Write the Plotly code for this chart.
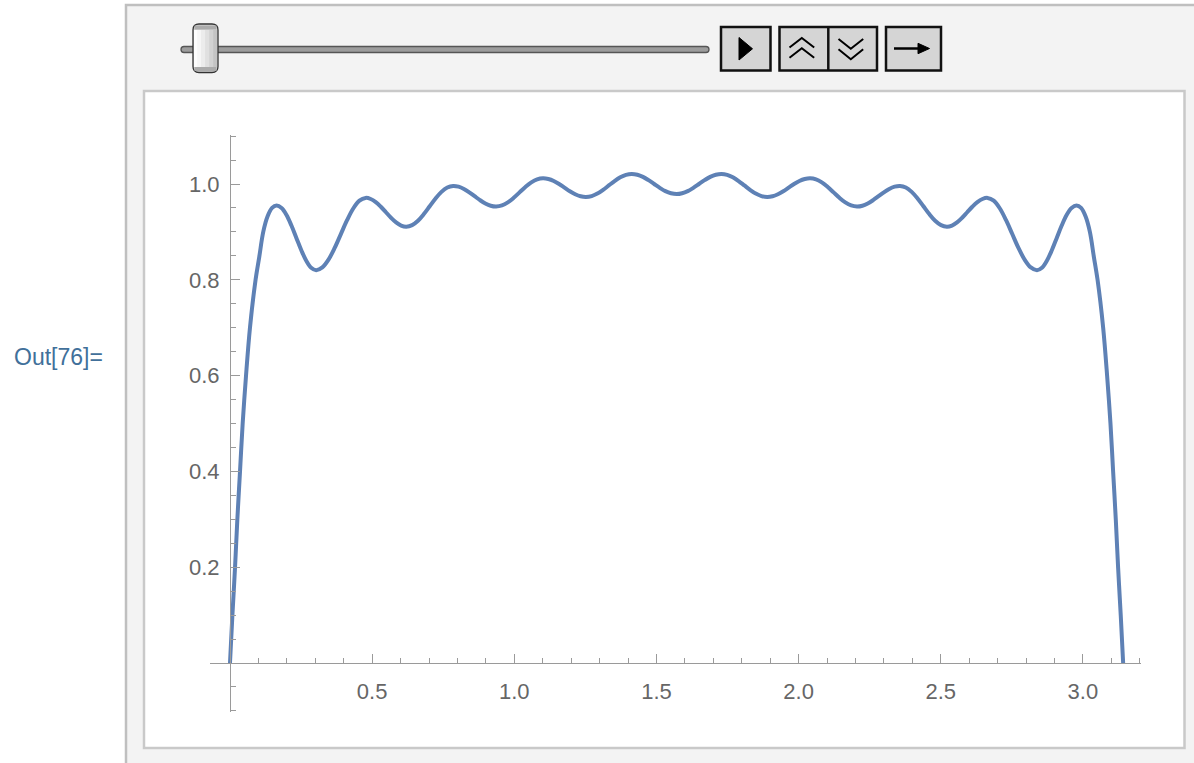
import plotly.graph_objects as go

# ---- data ----
x_vals = [
    0.0, 0.0082, 0.0176, 0.0258, 0.0352, 0.0446, 0.0563, 0.0703, 0.090, 0.103,
    0.117, 0.132, 0.148, 0.164,
    0.1814, 0.1988, 0.2161, 0.2335, 0.2509, 0.2683, 0.2856, 0.303,
    0.3248, 0.3465, 0.3683, 0.390, 0.4118, 0.4335, 0.4553, 0.477,
    0.4949, 0.5128, 0.5306, 0.5485, 0.5664, 0.5843, 0.6021, 0.620,
    0.6406, 0.6613, 0.6819, 0.7025, 0.7231, 0.7438, 0.7644, 0.785,
    0.8039, 0.8228, 0.8416, 0.8605, 0.8794, 0.8983, 0.9171, 0.936,
    0.9566, 0.9773, 0.9979, 1.0185, 1.0391, 1.0598, 1.0804, 1.101,
    1.1199, 1.1388, 1.1576, 1.1765, 1.1954, 1.2143, 1.2331, 1.252,
    1.2721, 1.2923, 1.3124, 1.3325, 1.3526, 1.3728, 1.3929, 1.413,
    1.4328, 1.4525, 1.4723, 1.492, 1.5118, 1.5315, 1.5513, 1.571,
    1.5903, 1.6101, 1.6298, 1.6496, 1.6693, 1.6891, 1.7088, 1.7286,
    1.7487, 1.7688, 1.7890, 1.8091, 1.8292, 1.8493, 1.8695, 1.8896,
    1.9085, 1.9273, 1.9462, 1.9651, 1.9840, 2.0028, 2.0217, 2.0406,
    2.0612, 2.0818, 2.1025, 2.1231, 2.1437, 2.1643, 2.1850, 2.2056,
    2.2245, 2.2433, 2.2622, 2.2811, 2.3000, 2.3188, 2.3377, 2.3566,
    2.3772, 2.3978, 2.4185, 2.4391, 2.4597, 2.4803, 2.5010, 2.5216,
    2.5395, 2.5573, 2.5752, 2.5931, 2.6110, 2.6288, 2.6467, 2.6646,
    2.6863, 2.7081, 2.7298, 2.7516, 2.7733, 2.7951, 2.8168, 2.8386,
    2.8560, 2.8733, 2.8907, 2.9081, 2.9255, 2.9428, 2.9602, 2.9776,
    2.9936, 3.0096, 3.0246, 3.0386, 3.0516, 3.0713, 3.0853, 3.097, 3.1064,
    3.1158, 3.124, 3.1334, 3.1416]
y_vals = [
    0.0, 0.097, 0.198, 0.299, 0.399, 0.500, 0.599, 0.700, 0.800, 0.848,
    0.900, 0.932, 0.950, 0.955,
    0.9499, 0.9352, 0.9133, 0.8875, 0.8617, 0.8398, 0.8251, 0.820,
    0.8258, 0.8421, 0.8666, 0.8955, 0.9244, 0.9489, 0.9652, 0.971,
    0.9687, 0.9622, 0.9525, 0.941, 0.9295, 0.9198, 0.9133, 0.911,
    0.9142, 0.9234, 0.9372, 0.9535, 0.9698, 0.9836, 0.9928, 0.996,
    0.9944, 0.9897, 0.9827, 0.9745, 0.9663, 0.9593, 0.9546, 0.953,
    0.9552, 0.9616, 0.9712, 0.9825, 0.9938, 1.0034, 1.0098, 1.012,
    1.0105, 1.0063, 1.0000, 0.9925, 0.9850, 0.9787, 0.9745, 0.973,
    0.9748, 0.9800, 0.9878, 0.997, 1.0062, 1.0140, 1.0192, 1.021,
    1.0194, 1.0149, 1.0080, 1.000, 0.9920, 0.9851, 0.9806, 0.979,
    0.9806, 0.9851, 0.9920, 1.000, 1.0080, 1.0149, 1.0194, 1.021,
    1.0192, 1.0140, 1.0062, 0.997, 0.9878, 0.9800, 0.9748, 0.973,
    0.9745, 0.9787, 0.9850, 0.9925, 1.0000, 1.0063, 1.0105, 1.012,
    1.0098, 1.0034, 0.9938, 0.9825, 0.9712, 0.9616, 0.9552, 0.953,
    0.9546, 0.9593, 0.9663, 0.9745, 0.9827, 0.9897, 0.9944, 0.996,
    0.9928, 0.9836, 0.9698, 0.9535, 0.9372, 0.9234, 0.9142, 0.911,
    0.9133, 0.9198, 0.9295, 0.941, 0.9525, 0.9622, 0.9687, 0.971,
    0.9652, 0.9489, 0.9244, 0.8955, 0.8666, 0.8421, 0.8258, 0.820,
    0.8251, 0.8398, 0.8617, 0.8875, 0.9133, 0.9352, 0.9499, 0.955,
    0.950, 0.932, 0.900, 0.848, 0.800, 0.700, 0.599, 0.500, 0.399,
    0.299, 0.198, 0.097, 0.0]

x_major = [0.5, 1.0, 1.5, 2.0, 2.5, 3.0]
x_major_text = ["0.5", "1.0", "1.5", "2.0", "2.5", "3.0"]
x_minor = [0.1, 0.2, 0.3, 0.4, 0.6, 0.7, 0.8, 0.9, 1.1, 1.2, 1.3, 1.4, 1.6, 1.7,
           1.8, 1.9, 2.1, 2.2, 2.3, 2.4, 2.6, 2.7, 2.8, 2.9, 3.1, 3.2]
y_major = [0.2, 0.4, 0.6, 0.8, 1.0]
y_major_text = ["0.2", "0.4", "0.6", "0.8", "1.0"]
y_minor = [-0.1, -0.05, 0.05, 0.1, 0.15, 0.25, 0.3, 0.35, 0.45, 0.5, 0.55,
           0.65, 0.7, 0.75, 0.85, 0.9, 0.95, 1.05, 1.1]
out_label = "Out[76]="

# ---- layout geometry (pixels in the 1194x763 page) ----
W_PAGE, H_PAGE = 1194, 763
L, R, T, B = 210, 1141, 135, 712
X_RANGE = [-0.0703, 3.2044]
Y_RANGE = [-0.1023, 1.1023]


def px(x):
    return (x - L) / (R - L)


def py(y):
    return (B - y) / (B - T)


def rect(x0, y0, x1, y1, fill, line=None, lw=0):
    return dict(type="rect", xref="paper", yref="paper", layer="below",
                x0=px(x0), x1=px(x1), y0=py(y1), y1=py(y0),
                fillcolor=fill, line=dict(color=line or fill, width=lw))


def path(points, fill=None, line="black", lw=2, closed=False):
    d = "M " + " L ".join(f"{px(a)},{py(b)}" for a, b in points)
    if closed:
        d += " Z"
    return dict(type="path", xref="paper", yref="paper", layer="below", path=d,
                fillcolor=fill if fill else "rgba(0,0,0,0)",
                line=dict(color=line, width=lw))


def rounded(x0, y0, x1, y1, r, fill, line, lw):
    pts = (f"M {px(x0 + r)},{py(y0)} L {px(x1 - r)},{py(y0)} "
           f"Q {px(x1)},{py(y0)} {px(x1)},{py(y0 + r)} "
           f"L {px(x1)},{py(y1 - r)} Q {px(x1)},{py(y1)} {px(x1 - r)},{py(y1)} "
           f"L {px(x0 + r)},{py(y1)} Q {px(x0)},{py(y1)} {px(x0)},{py(y1 - r)} "
           f"L {px(x0)},{py(y0 + r)} Q {px(x0)},{py(y0)} {px(x0 + r)},{py(y0)} Z")
    return dict(type="path", xref="paper", yref="paper", layer="below", path=pts,
                fillcolor=fill, line=dict(color=line, width=lw))


shapes = []
# outer Manipulate panel
shapes.append(rect(126, 5, 1210, 775, "#f3f3f3", "#bfbfbf", 2.5))
# inner white graphics box
shapes.append(rect(144, 91, 1184.5, 748, "#ffffff", "#c9c9c9", 2.5))

# slider track
shapes.append(rounded(181, 46.5, 709, 52.5, 3, "#9c9c9c", "#555555", 1.3))
# slider thumb (rounded, with simple gradient strips)
shapes.append(rounded(193, 24, 218, 72.5, 6, "#d8d8d8", "#333333", 1.3))
grad = ["#fdfdfd", "#f6f6f6", "#ececec", "#e0e0e0", "#d2d2d2", "#c4c4c4"]
sw = 23.0 / len(grad)
for i, c in enumerate(grad):
    shapes.append(rect(194 + i * sw, 30, 194 + (i + 1) * sw, 67, c))
shapes.append(rect(194.5, 25.5, 216.5, 29.5, "#ababab"))
shapes.append(rect(194.5, 67, 216.5, 71, "#ababab"))

# buttons
btn_fill = "#d5d5d5"
shapes.append(rect(721, 27, 770.5, 70.5, btn_fill, "#111111", 2.5))
shapes.append(rect(779.5, 27, 877, 70.5, btn_fill, "#111111", 2.5))
shapes.append(path([(828.3, 27), (828.3, 70.5)], line="#111111", lw=2.5))
shapes.append(rect(886, 27, 941, 70.5, btn_fill, "#111111", 2.5))
# play triangle
shapes.append(path([(739, 37.5), (752.5, 48.8), (739, 60)], fill="#000000",
                   line="#000000", lw=1, closed=True))
# up chevrons
shapes.append(path([(789.5, 47.5), (801.8, 38), (814.2, 47.5)], line="#000000", lw=2))
shapes.append(path([(789.5, 57.8), (801.8, 48.3), (814.2, 57.8)], line="#000000", lw=2))
# down chevrons
shapes.append(path([(838.5, 39), (850.8, 48.8), (863.2, 39)], line="#000000", lw=2))
shapes.append(path([(838.5, 49.3), (850.8, 59.2), (863.2, 49.3)], line="#000000", lw=2))
# right arrow
shapes.append(path([(894, 48.5), (920, 48.5)], line="#000000", lw=2.5))
shapes.append(path([(918, 43.3), (929.5, 48.5), (918, 53.7)], fill="#000000",
                   line="#000000", lw=1, closed=True))

fig = go.Figure()
fig.add_trace(go.Scatter(
    x=x_vals, y=y_vals, mode="lines",
    line=dict(color="#5e81b5", width=4, shape="spline", smoothing=1.0),
    hoverinfo="skip", showlegend=False))

axis_font = dict(family="Liberation Sans, Arial, sans-serif", size=22, color="#666666")

fig.update_layout(
    width=W_PAGE, height=H_PAGE,
    margin=dict(l=L, r=W_PAGE - R, t=T, b=H_PAGE - B, pad=0),
    paper_bgcolor="#ffffff", plot_bgcolor="rgba(0,0,0,0)",
    shapes=shapes,
    showlegend=False,
    xaxis=dict(
        range=X_RANGE, anchor="free", position=py(663), side="bottom",
        showgrid=False, zeroline=False,
        showline=True, linecolor="#9a9a9a", linewidth=1.2,
        tickmode="array", tickvals=x_major, ticktext=x_major_text,
        ticks="inside", ticklen=9, tickwidth=1.2, tickcolor="#9a9a9a",
        tickfont=axis_font, ticklabelstandoff=8,
        minor=dict(tickmode="array", tickvals=x_minor, ticks="inside",
                   ticklen=5, tickwidth=1.1, tickcolor="#9a9a9a"),
        fixedrange=True,
    ),
    yaxis=dict(
        range=Y_RANGE, anchor="free", position=px(230), side="left",
        showgrid=False, zeroline=False,
        showline=True, linecolor="#9a9a9a", linewidth=1.2,
        tickmode="array", tickvals=y_major, ticktext=y_major_text,
        ticks="inside", ticklen=9, tickwidth=1.2, tickcolor="#9a9a9a",
        tickfont=axis_font, ticklabelstandoff=6,
        minor=dict(tickmode="array", tickvals=y_minor, ticks="inside",
                   ticklen=5, tickwidth=1.1, tickcolor="#9a9a9a"),
        fixedrange=True,
    ),
    annotations=[dict(
        text=out_label, xref="paper", yref="paper",
        x=px(105), y=py(357), xanchor="right", yanchor="middle",
        showarrow=False,
        font=dict(family="Liberation Sans, Arial, sans-serif", size=23, color="#41709a"),
    )],
)

fig.write_html(
    "out.html",
    config={"displayModeBar": False},
    post_script="document.body.style.margin='0';document.body.style.overflow='hidden';",
)
